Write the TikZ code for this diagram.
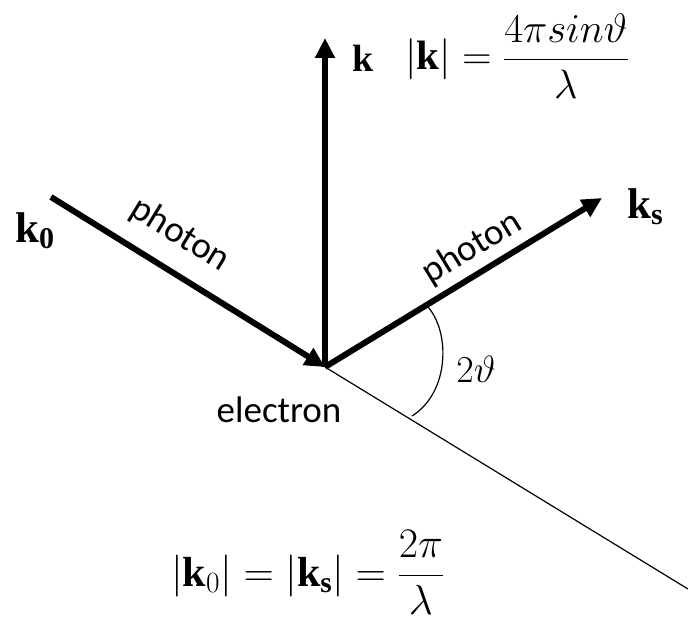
\RequirePackage{fix-cm}
\documentclass[tikz,border=0pt]{standalone}
\usepackage{amsmath}
\usepackage{fontspec}
\setmainfont{Liberation Serif}
\newfontfamily\calib{Carlito}
\usetikzlibrary{arrows.meta}
\begin{document}
\begin{tikzpicture}[x=1pt,y=-1pt,
  vec/.style={line width=6pt,-{Triangle[length=20pt,width=19pt]}},
  thin/.style={line width=1.2pt},
  lbl/.style={font=\calib\fontsize{37}{40}\selectfont, inner sep=0pt},
  mth/.style={font=\fontsize{38}{44}\selectfont, inner sep=0pt},
  big/.style={font=\fontsize{43}{48}\selectfont, inner sep=0pt}]
\useasboundingbox (0,0) rectangle (688,618);
\coordinate (O) at (325,367);
\coordinate (A) at (51,197);
\coordinate (K) at (325,38);
\coordinate (S) at (602,198);
\coordinate (E) at (688,589);
\coordinate (P0) at (428,307);
\coordinate (P3) at (412,416);
\draw[vec] (A) -- (O);
\draw[vec] (O) -- (K);
\draw[vec] (O) -- (S);
\draw[thin] (O) -- (E);
\draw[thin] (P0) .. controls (450,332) and (450,392) .. (P3);
\node[lbl, rotate=-31.5] (ph1) at (180,235) {photon};
\node[lbl, rotate=31.5] (ph2) at (472,248) {photon};
\node[lbl, anchor=base] (el) at (279,422) {electron};
\node[big, anchor=base west] (k0) at (15,242) {$\mathbf{k_0}$};
\node[big, anchor=base west] (ks) at (627,218) {$\mathbf{k_s}$};
\node[mth, anchor=base west] (kl) at (352,72) {$\mathbf{k}$};
\node[mth, anchor=base west, font=\fontsize{41}{46}\selectfont] (fk) at (405,70) {$|\mathbf{k}| = \dfrac{4\pi sin\vartheta}{\lambda}$};
\node[mth, anchor=center] (th) at (476,369) {$2\vartheta$};
\node[mth, anchor=base west, font=\fontsize{42}{46}\selectfont] (f0) at (171,586) {$|\mathbf{k}_0| = |\mathbf{k_s}| = \dfrac{2\pi}{\lambda}$};
\end{tikzpicture}
\end{document}
